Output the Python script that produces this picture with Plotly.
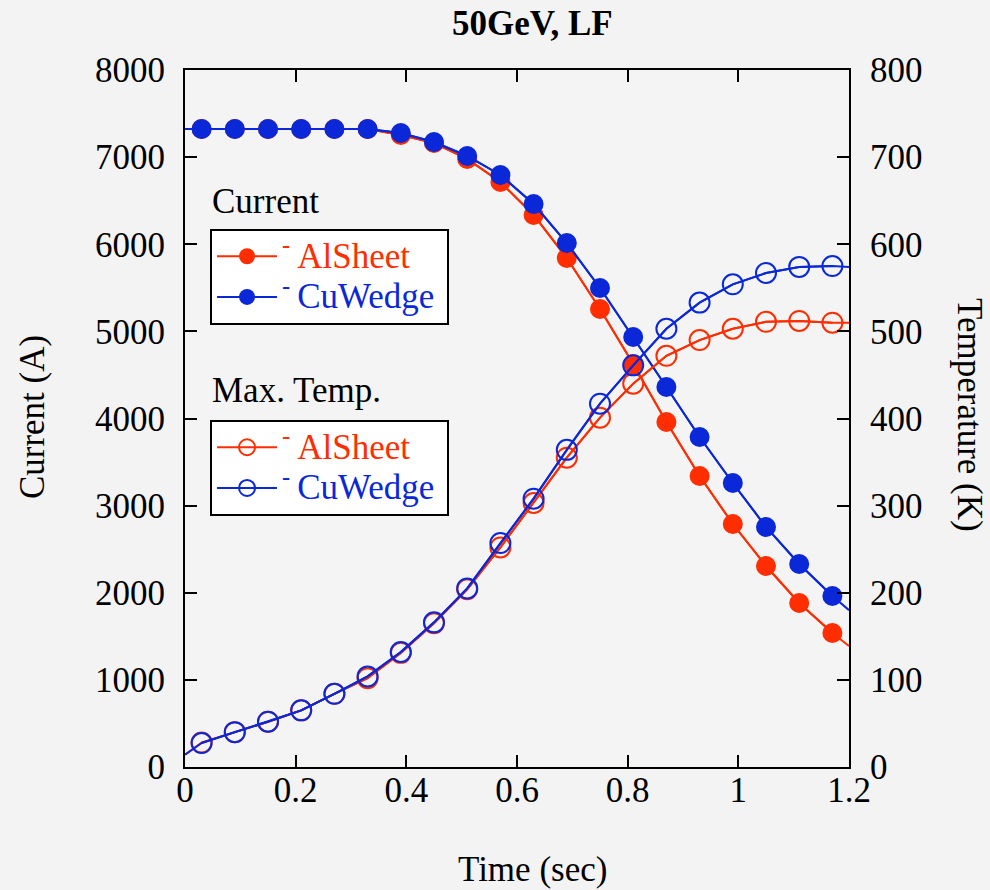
import plotly.graph_objects as go

# Time points (sec): line start, marker samples, line end
time_s = [0.0, 0.03, 0.09, 0.15, 0.21, 0.27, 0.33, 0.39, 0.45, 0.51, 0.57, 0.63,
          0.69, 0.75, 0.81, 0.87, 0.93, 0.99, 1.05, 1.11, 1.17, 1.2]

# Current (A)
cur_al = [7323, 7323, 7323, 7323, 7323, 7323, 7323, 7254, 7162, 6979, 6714, 6336,
          5842, 5257, 4626, 3960, 3340, 2789, 2307, 1882, 1538, 1390]
cur_cu = [7323, 7323, 7323, 7323, 7323, 7323, 7323, 7277, 7174, 7013, 6795, 6462,
          6014, 5498, 4935, 4362, 3788, 3260, 2755, 2330, 1963, 1800]

# Max. temperature (K)
temp_al = [14, 28, 40, 52, 65, 84, 102, 131, 165, 204, 252, 303,
           355, 401, 440, 472, 490, 503, 511, 512, 510, 510]
temp_cu = [14, 27.5, 40, 52, 65, 84, 104, 132, 166, 205, 257, 308,
           364, 417, 461, 503, 533, 554, 567, 574, 575, 574]

RED = "#ff2d00"
BLUE = "#0a28d8"
FONT = "Liberation Serif"
FS = 35

# marker samples exclude the line's first and last points
MK = slice(1, -1)


def label(text, color):
    return (f"<span style='color:{color};font-size:{FS}px'>"
            f"<sup>-</sup>\u2009{text}\u2009</span>")


fig = go.Figure()


def add_series(y, color, symbol, name, legend, yaxis):
    # full line (from t=0 to t=1.2)
    fig.add_trace(go.Scatter(x=time_s, y=y, mode="lines", yaxis=yaxis,
                             line=dict(color=color, width=2), showlegend=False,
                             hoverinfo="skip"))
    # markers at sample times
    mk = dict(symbol=symbol, size=20, color=color, opacity=1)
    if symbol == "circle-open":
        mk["line"] = dict(width=2, color=color)
    fig.add_trace(go.Scatter(x=time_s[MK], y=y[MK], mode="lines+markers", yaxis=yaxis,
                             name=name, line=dict(color=color, width=2), marker=mk,
                             legend=legend))


add_series(cur_al, RED, "circle", label("AlSheet", RED), "legend", "y")
add_series(cur_cu, BLUE, "circle", label("CuWedge", BLUE), "legend", "y")
add_series(temp_al, RED, "circle-open", label("AlSheet", RED), "legend2", "y2")
add_series(temp_cu, BLUE, "circle-open", label("CuWedge", BLUE), "legend2", "y2")

axis_common = dict(showgrid=False, zeroline=False, showline=True, linecolor="black",
                   linewidth=2, ticks="inside", ticklen=12, tickwidth=2, tickcolor="black",
                   tickfont=dict(family=FONT, size=FS, color="black"))

legend_common = dict(xanchor="left", yanchor="top", bgcolor="white", bordercolor="black",
                     borderwidth=2, font=dict(family=FONT, size=29), tracegroupgap=0,
                     itemwidth=60)

fig.update_layout(
    width=990, height=890,
    margin=dict(l=185, r=141, t=70, b=123),
    paper_bgcolor="#f3f3f3", plot_bgcolor="#f4f4f4",
    font=dict(family=FONT, size=FS, color="black"),
    xaxis=dict(range=[0, 1.2], tickvals=[0, 0.2, 0.4, 0.6, 0.8, 1, 1.2],
               ticktext=["0", "0.2", "0.4", "0.6", "0.8", "1", "1.2"],
               mirror="ticks", ticklabelstandoff=-9, **axis_common),
    yaxis=dict(range=[0, 8000], dtick=1000, mirror="ticks", ticklabelstandoff=11,
               **axis_common),
    yaxis2=dict(range=[0, 800], dtick=100, overlaying="y", side="right",
                ticklabelstandoff=12, **axis_common),
    showlegend=True,
    legend=dict(x=0.0377, y=0.772, **legend_common),
    legend2=dict(x=0.0377, y=0.498, **legend_common),
    annotations=[
        dict(text="<b>50GeV, LF</b>", xref="paper", yref="paper", x=0.524, y=1.0,
             yshift=47, xanchor="center", yanchor="middle", showarrow=False,
             font=dict(family=FONT, size=FS)),
        dict(text="Current", xref="paper", yref="paper", x=0.037, y=0.812,
             xanchor="left", yanchor="middle", showarrow=False,
             font=dict(family=FONT, size=FS)),
        dict(text="Max. Temp.", xref="paper", yref="paper", x=0.037, y=0.54,
             xanchor="left", yanchor="middle", showarrow=False,
             font=dict(family=FONT, size=FS)),
        dict(text="Current (A)", xref="paper", yref="paper", x=0, y=0.502,
             xshift=-153, textangle=-90, xanchor="center", yanchor="middle",
             showarrow=False, font=dict(family=FONT, size=FS)),
        dict(text="Temperature (K)", xref="paper", yref="paper", x=1, y=0.505,
             xshift=121, textangle=90, xanchor="center", yanchor="middle",
             showarrow=False, font=dict(family=FONT, size=FS)),
        dict(text="Time (sec)", xref="paper", yref="paper", x=0.524, y=0,
             yshift=-102, xanchor="center", yanchor="middle",
             showarrow=False, font=dict(family=FONT, size=FS)),
    ],
)

fig.write_html("out.html")
